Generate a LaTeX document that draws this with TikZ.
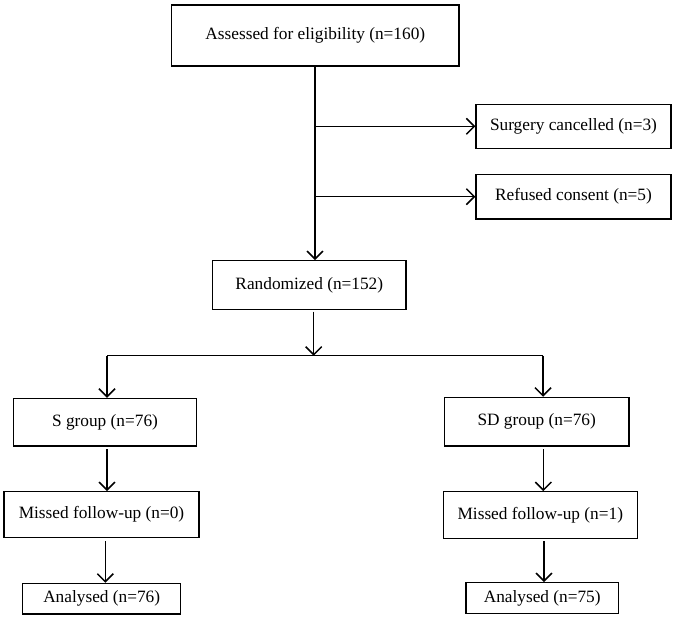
\documentclass[tikz,border=0pt]{standalone}
\usepackage{fontspec}
\setmainfont{Liberation Serif}
\usetikzlibrary{arrows.meta}
\begin{document}
\begin{tikzpicture}[x=1pt,y=-1pt,
  box/.style={draw, line width=1.2pt, inner sep=0pt, align=center,
    font=\fontsize{17.3}{20}\selectfont},
  arr/.style={line width=1.5pt, -{Straight Barb[length=8pt,width=16pt,line width=1.5pt]}},
  ln/.style={line width=1.5pt}]
\useasboundingbox (0,0) rectangle (677,627);
\node[box, minimum width=287.3pt, minimum height=61pt] (top) at (315.3,35.5) {Assessed for eligibility (n=160)};
\node[box, minimum width=195pt, minimum height=44pt] (surg) at (573.5,126.3) {Surgery cancelled (n=3)};
\node[box, minimum width=195pt, minimum height=44.7pt] (ref) at (573.5,196.7) {Refused consent (n=5)};
\node[box, minimum width=193.3pt, minimum height=48.6pt] (rand) at (309.3,285) {Randomized (n=152)};
\node[box, minimum width=183.4pt, minimum height=47.7pt] (sg) at (105,422.2) {S group (n=76)};
\node[box, minimum width=184.7pt, minimum height=48.7pt] (sdg) at (536.7,421.7) {SD group (n=76)};
\node[box, minimum width=195pt, minimum height=45.6pt] (missl) at (101.5,514.5) {Missed follow-up (n=0)};
\node[box, minimum width=194pt, minimum height=46.6pt] (missr) at (540.3,515) {Missed follow-up (n=1)};
\node[box, minimum width=158pt, minimum height=30.7pt] (anl) at (101.7,598.7) {Analysed (n=76)};
\node[box, minimum width=152.3pt, minimum height=30.6pt] (anr) at (542.2,598) {Analysed (n=75)};
% main trunk
\coordinate (t0) at (315,66);
\coordinate (b1) at (315,126.3);
\coordinate (b2) at (315,196.7);
\draw[arr] (t0) -- (t0 |- rand.north);
\draw[arr] (b1) -- (surg.west);
\draw[arr] (b2) -- (ref.west);
% split
\coordinate (r0) at (313.7,311.7);
\coordinate (hm) at (313.7,355.7);
\coordinate (hl) at (107,355.7);
\coordinate (hr) at (543,355.7);
\draw[arr] (r0) -- (hm);
\draw[ln] (hl) -- (hr);
\draw[arr] (hl) -- (hl |- sg.north);
\draw[arr] (hr) -- (hr |- sdg.north);
% left column
\coordinate (s0) at (107,449);
\draw[arr] (s0) -- (s0 |- missl.north);
\coordinate (m0) at (105.3,541);
\draw[arr] (m0) -- (m0 |- anl.north);
% right column
\coordinate (sd0) at (543.3,449);
\draw[arr] (sd0) -- (sd0 |- missr.north);
\coordinate (mr0) at (544,541);
\draw[arr] (mr0) -- (mr0 |- anr.north);
\end{tikzpicture}
\end{document}
